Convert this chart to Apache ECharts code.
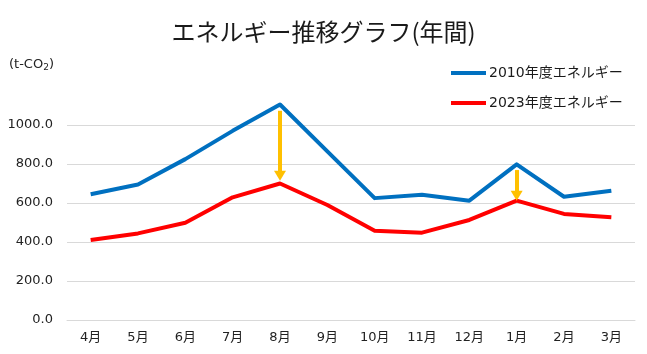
<!DOCTYPE html>
<html>
<head>
<meta charset="utf-8">
<script src="https://cdn.jsdelivr.net/npm/echarts@6/dist/echarts.min.js"></script>
<style>
  html, body { margin: 0; padding: 0; background: #fff; }
  #chart { width: 647px; height: 354px; }
</style>
</head>
<body>
<div id="chart"></div>
<script>
// データ
const months = ["4月", "5月", "6月", "7月", "8月", "9月", "10月", "11月", "12月", "1月", "2月", "3月"];
const energy2010 = [645, 695, 825, 970, 1105, 865, 625, 642, 612, 798, 632, 663];
const energy2023 = [410, 444, 499, 629, 700, 590, 458, 448, 513, 612, 544, 527];
// 矢印（削減）
const arrowMonths = ["8月", "1月"];
const arrowFrom = [1073, 769];
const arrowTo = [740, 637];

const font = "'DejaVu Sans', 'Noto Sans CJK JP', sans-serif";
const cjkFont = "'Noto Sans CJK JP', sans-serif";

const chart = echarts.init(document.getElementById("chart"));

const arrowData = arrowMonths.map((m, i) => [
  { coord: [m, arrowFrom[i]] },
  { coord: [m, arrowTo[i]] },
]);

const option = {
  animation: false,
  backgroundColor: "#fff",
  title: [
    {
      text: "エネルギー推移グラフ(年間)",
      left: "center",
      top: 15,
      textStyle: { fontFamily: cjkFont, fontSize: 24, fontWeight: "normal", color: "#1a1a1a" },
    },
    {
      text: "(t-CO{sub|2})",
      left: 4,
      top: 52,
      textStyle: {
        fontFamily: font,
        fontSize: 13,
        fontWeight: "normal",
        color: "#222",
        rich: {
          sub: { fontFamily: font, fontSize: 9, color: "#222", verticalAlign: "bottom", padding: [6, 0, 0, 0] },
        },
      },
    },
  ],
  legend: {
    orient: "vertical",
    left: 446,
    top: 61,
    itemGap: 16,
    itemWidth: 35,
    itemHeight: 4,
    icon: "rect",
    textStyle: { fontFamily: font, fontSize: 14, color: "#1a1a1a", padding: [0, 0, 0, -2] },
    data: ["2010年度エネルギー", "2023年度エネルギー"],
  },
  grid: { left: 67, right: 12, top: 86, bottom: 34 },
  xAxis: {
    type: "category",
    data: months,
    boundaryGap: true,
    axisLine: { lineStyle: { color: "#d9d9d9" } },
    axisTick: { show: false },
    axisLabel: { fontFamily: font, fontSize: 13, color: "#222", margin: 11 },
  },
  yAxis: {
    type: "value",
    min: 0,
    max: 1200,
    interval: 200,
    axisLine: { show: false },
    axisTick: { show: false },
    splitLine: { showMaxLine: false, lineStyle: { color: "#d9d9d9" } },
    axisLabel: {
      fontFamily: font,
      fontSize: 13,
      color: "#222",
      margin: 14,
      showMaxLabel: false,
      formatter: (v) => (v >= 1200 ? "" : v.toFixed(1)),
    },
  },
  series: [
    {
      name: "2010年度エネルギー",
      type: "line",
      data: energy2010,
      symbol: "none",
      itemStyle: { color: "#0070C0" },
      lineStyle: { color: "#0070C0", width: 4, join: "round" },
    },
    {
      name: "2023年度エネルギー",
      type: "line",
      data: energy2023,
      symbol: "none",
      itemStyle: { color: "#FF0000" },
      lineStyle: { color: "#FF0000", width: 4, join: "round" },
      markLine: {
        silent: true,
        symbol: ["none", "triangle"],
        symbolSize: [12, 10],
        label: { show: false },
        lineStyle: { color: "#FFC000", width: 4, type: "solid" },
        data: arrowData,
      },
    },
  ],
};

chart.setOption(option);
window.onresize = function () {
  chart.resize();
};
</script>
</body>
</html>
